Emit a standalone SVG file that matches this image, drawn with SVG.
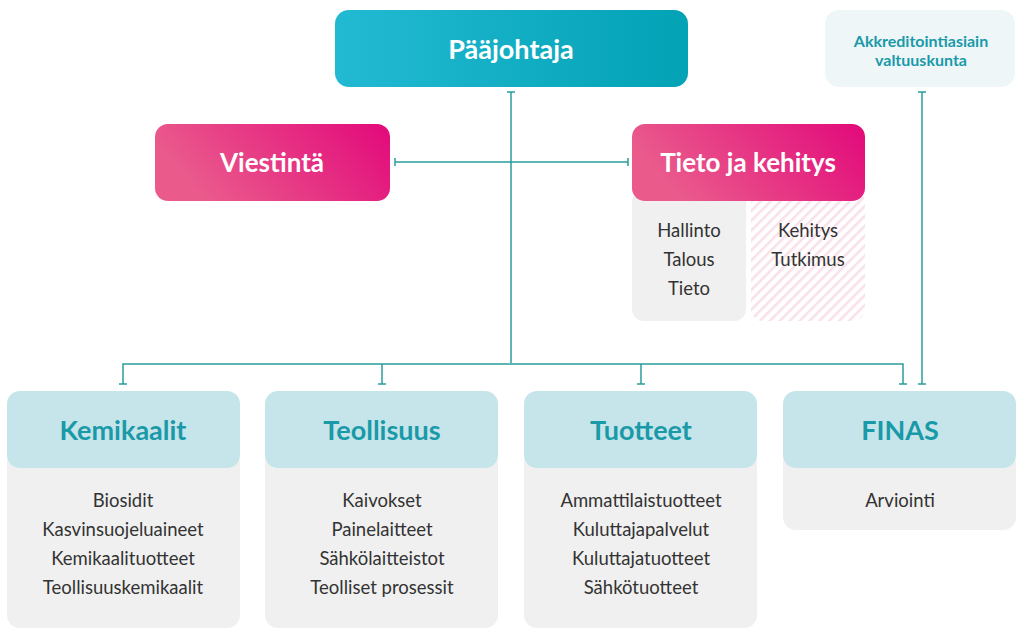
<svg xmlns="http://www.w3.org/2000/svg" width="1024" height="638" viewBox="0 0 1024 638">
<defs>
<linearGradient id="gTeal" x1="0" y1="0" x2="1" y2="0"><stop offset="0" stop-color="#22bad3"/><stop offset="1" stop-color="#03a2b5"/></linearGradient>
<linearGradient id="gPink" x1="0" y1="0.3" x2="1" y2="0"><stop offset="0" stop-color="#ea5b8c"/><stop offset="1" stop-color="#e2097b"/></linearGradient>
<pattern id="hatch" width="7" height="7" patternUnits="userSpaceOnUse" patternTransform="rotate(45)"><rect width="7" height="7" fill="#ffffff"/><rect width="2.5" height="7" fill="#f9e0ea"/></pattern>
<marker id="tick" viewBox="-5 -5 10 10" markerWidth="10" markerHeight="10" markerUnits="userSpaceOnUse" orient="auto"><path d="M0,-4 L0,4" stroke="#2a9d9a" stroke-width="1.5"/></marker>
</defs>
<style>
.conn{fill:none;stroke:#2a9d9a;stroke-width:1.5}
.big{font-family:Lato,"Open Sans",sans-serif;font-weight:700;fill:#fff;text-anchor:middle}
.hd{font-family:Lato,"Open Sans",sans-serif;font-weight:700;fill:#1a9aa8;text-anchor:middle;font-size:27px}
.ak{font-family:Lato,"Open Sans",sans-serif;font-weight:700;fill:#1a9aa8;text-anchor:middle;font-size:16px}
.bd{font-family:Lato,"Open Sans",sans-serif;fill:#333;text-anchor:middle;font-size:18.5px}
.hdr{fill:#c6e5eb}
.body{fill:#f0f0f0}
</style>
<rect width="1024" height="638" fill="#fff"/>
<g id="connectors">
<path class="conn" d="M511,92 V363" marker-start="url(#tick)"/>
<path class="conn" d="M395,162 H628" marker-start="url(#tick)" marker-end="url(#tick)"/>
<path class="conn" d="M123,384 V364 H903 V384" marker-start="url(#tick)" marker-end="url(#tick)"/>
<path class="conn" d="M382,364 V384" marker-end="url(#tick)"/>
<path class="conn" d="M641,364 V384" marker-end="url(#tick)"/>
<path class="conn" d="M922,92 V384" marker-start="url(#tick)" marker-end="url(#tick)"/>
</g>
<g id="paajohtaja">
<rect x="335" y="10" width="353" height="77" rx="14" fill="url(#gTeal)"/>
<text class="big" x="511" y="59" font-size="27">Pääjohtaja</text>
</g>
<g id="akkreditointi">
<rect x="825" y="10" width="190" height="77" rx="14" fill="#eef6f8"/>
<text class="ak" x="921" y="47">Akkreditointiasiain</text>
<text class="ak" x="921" y="66">valtuuskunta</text>
</g>
<g id="viestinta">
<rect x="155" y="124" width="235" height="77" rx="13" fill="url(#gPink)"/>
<text class="big" x="272" y="172" font-size="26">Viestintä</text>
</g>
<g id="tieto">
<rect x="632" y="190" width="114" height="131" rx="12" fill="#f0f0f0"/>
<rect x="751" y="190" width="114" height="131" rx="12" fill="url(#hatch)"/>
<rect x="632" y="124" width="233" height="77" rx="13" fill="url(#gPink)"/>
<text class="big" x="748" y="172" font-size="26">Tieto ja kehitys</text>
<text class="bd" x="689" y="237">Hallinto</text>
<text class="bd" x="689" y="266">Talous</text>
<text class="bd" x="689" y="295">Tieto</text>
<text class="bd" x="808" y="237">Kehitys</text>
<text class="bd" x="808" y="266">Tutkimus</text>
</g>
<g id="kemikaalit">
<rect class="body" x="7" y="450" width="233" height="178" rx="13"/>
<rect class="hdr" x="7" y="391" width="233" height="77" rx="13"/>
<text class="hd" x="123" y="440">Kemikaalit</text>
<text class="bd" x="123" y="507">Biosidit</text>
<text class="bd" x="123" y="536">Kasvinsuojeluaineet</text>
<text class="bd" x="123" y="565">Kemikaalituotteet</text>
<text class="bd" x="123" y="594">Teollisuuskemikaalit</text>
</g>
<g id="teollisuus">
<rect class="body" x="265" y="450" width="233" height="178" rx="13"/>
<rect class="hdr" x="265" y="391" width="233" height="77" rx="13"/>
<text class="hd" x="382" y="440">Teollisuus</text>
<text class="bd" x="382" y="507">Kaivokset</text>
<text class="bd" x="382" y="536">Painelaitteet</text>
<text class="bd" x="382" y="565">Sähkölaitteistot</text>
<text class="bd" x="382" y="594">Teolliset prosessit</text>
</g>
<g id="tuotteet">
<rect class="body" x="524" y="450" width="233" height="178" rx="13"/>
<rect class="hdr" x="524" y="391" width="233" height="77" rx="13"/>
<text class="hd" x="641" y="440">Tuotteet</text>
<text class="bd" x="641" y="507">Ammattilaistuotteet</text>
<text class="bd" x="641" y="536">Kuluttajapalvelut</text>
<text class="bd" x="641" y="565">Kuluttajatuotteet</text>
<text class="bd" x="641" y="594">Sähkötuotteet</text>
</g>
<g id="finas">
<rect class="body" x="783" y="450" width="233" height="80" rx="13"/>
<rect class="hdr" x="783" y="391" width="233" height="77" rx="13"/>
<text class="hd" x="900" y="440">FINAS</text>
<text class="bd" x="900" y="507">Arviointi</text>
</g>
</svg>
